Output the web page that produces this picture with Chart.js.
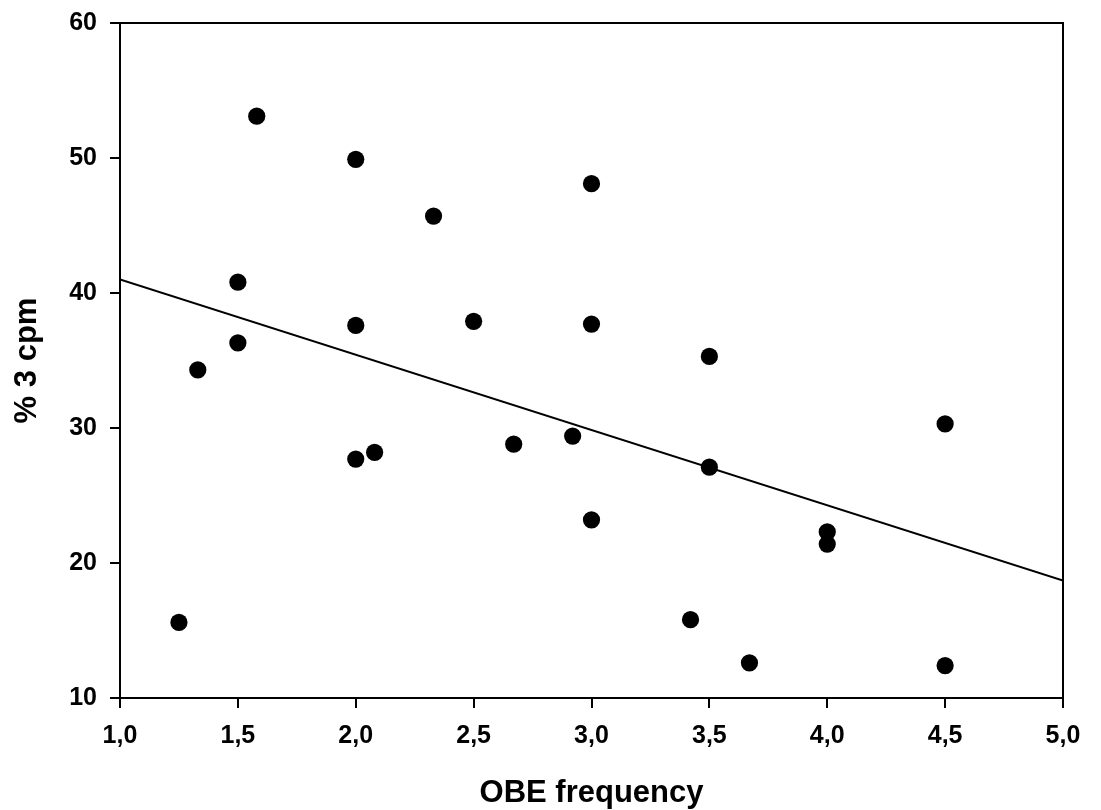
<!DOCTYPE html>
<html>
<head>
<meta charset="utf-8">
<title>OBE frequency vs % 3 cpm</title>
<script src="https://cdn.jsdelivr.net/npm/chart.js@4"></script>
<style>
    body { margin: 0; background: #fff; }
    #wrap { width: 1101px; height: 810px; }
</style>
</head>
<body>
<div id="wrap"><canvas id="scatterChart"></canvas></div>
<script>
// Values
const obeFrequency = [1.25, 1.33, 1.5, 1.5, 1.58, 2.0, 2.0, 2.0, 2.08, 2.33, 2.5, 2.67,
                      2.92, 3.0, 3.0, 3.0, 3.42, 3.5, 3.5, 3.67, 4.0, 4.0, 4.5, 4.5];
const pct3cpm = [15.6, 34.3, 40.8, 36.3, 53.1, 49.9, 37.6, 27.7, 28.2, 45.7, 37.9, 28.8,
                 29.4, 48.1, 37.7, 23.2, 15.8, 35.3, 27.1, 12.6, 22.3, 21.4, 30.3, 12.4];

// fitted line, ends
const fitX = [1.0, 5.0];
const fitY = [41.0, 18.7];

const xTicks = [1.0, 1.5, 2.0, 2.5, 3.0, 3.5, 4.0, 4.5, 5.0];
const yTicks = [10, 20, 30, 40, 50, 60];

const fontFamily = "'Liberation Sans', Arial, Helvetica, sans-serif";

// comma as decimal separator
function commaLabel(v) {
    return v.toFixed(1).replace('.', ',');
}

// top and right sides of the frame
const framePlugin = {
    id: 'frame',
    afterDraw(chart) {
        const { ctx, chartArea } = chart;
        ctx.save();
        ctx.strokeStyle = '#000';
        ctx.lineWidth = 2;
        ctx.beginPath();
        ctx.moveTo(chartArea.left, chartArea.top);
        ctx.lineTo(chartArea.right, chartArea.top);
        ctx.lineTo(chartArea.right, chartArea.bottom);
        ctx.stroke();
        ctx.restore();
    }
};

const points = obeFrequency.map((x, i) => ({ x: x, y: pct3cpm[i] }));
const fitLine = fitX.map((x, i) => ({ x: x, y: fitY[i] }));

new Chart(document.getElementById('scatterChart'), {
    type: 'scatter',
    data: {
        datasets: [
            {
                label: 'Fit',
                data: fitLine,
                showLine: true,
                borderColor: '#000',
                borderWidth: 2,
                pointRadius: 0,
                order: 2
            },
            {
                label: 'Patients',
                data: points,
                backgroundColor: '#000',
                borderColor: '#000',
                borderWidth: 0,
                pointRadius: 8.6,
                order: 1
            }
        ]
    },
    options: {
        responsive: true,
        maintainAspectRatio: false,
        animation: false,
        layout: {
            padding: { top: 23, right: 38, bottom: 0, left: 0 }
        },
        plugins: {
            legend: { display: false },
            tooltip: { enabled: false }
        },
        scales: {
            x: {
                type: 'linear',
                min: 1,
                max: 5,
                afterFit: function (scale) {
                    scale.height = 112;
                    scale.paddingLeft = 0;
                    scale.paddingRight = 0;
                },
                afterBuildTicks: function (scale) {
                    scale.ticks = xTicks.map(v => ({ value: v }));
                },
                border: { display: true, color: '#000', width: 2 },
                grid: {
                    drawOnChartArea: false,
                    drawTicks: true,
                    tickLength: 10,
                    color: '#000',
                    lineWidth: 2
                },
                ticks: {
                    color: '#000',
                    padding: 13,
                    maxRotation: 0,
                    font: { family: fontFamily, size: 25, weight: 'bold' },
                    callback: commaLabel
                },
                title: {
                    display: true,
                    text: 'OBE frequency',
                    color: '#000',
                    padding: { top: 0, bottom: 1 },
                    font: { family: fontFamily, size: 31, weight: 'bold', lineHeight: 1 }
                }
            },
            y: {
                type: 'linear',
                min: 10,
                max: 60,
                afterFit: function (scale) {
                    scale.width = 120;
                    scale.paddingTop = 0;
                    scale.paddingBottom = 0;
                },
                afterBuildTicks: function (scale) {
                    scale.ticks = yTicks.map(v => ({ value: v }));
                },
                border: { display: true, color: '#000', width: 2 },
                grid: {
                    drawOnChartArea: false,
                    drawTicks: true,
                    tickLength: 10,
                    color: '#000',
                    lineWidth: 2
                },
                ticks: {
                    color: '#000',
                    padding: 13,
                    font: { family: fontFamily, size: 25, weight: 'bold' }
                },
                title: {
                    display: true,
                    text: '% 3 cpm',
                    color: '#000',
                    padding: { top: 12, bottom: 0 },
                    font: { family: fontFamily, size: 31, weight: 'bold', lineHeight: 1 }
                }
            }
        }
    },
    plugins: [framePlugin]
});
</script>
</body>
</html>
